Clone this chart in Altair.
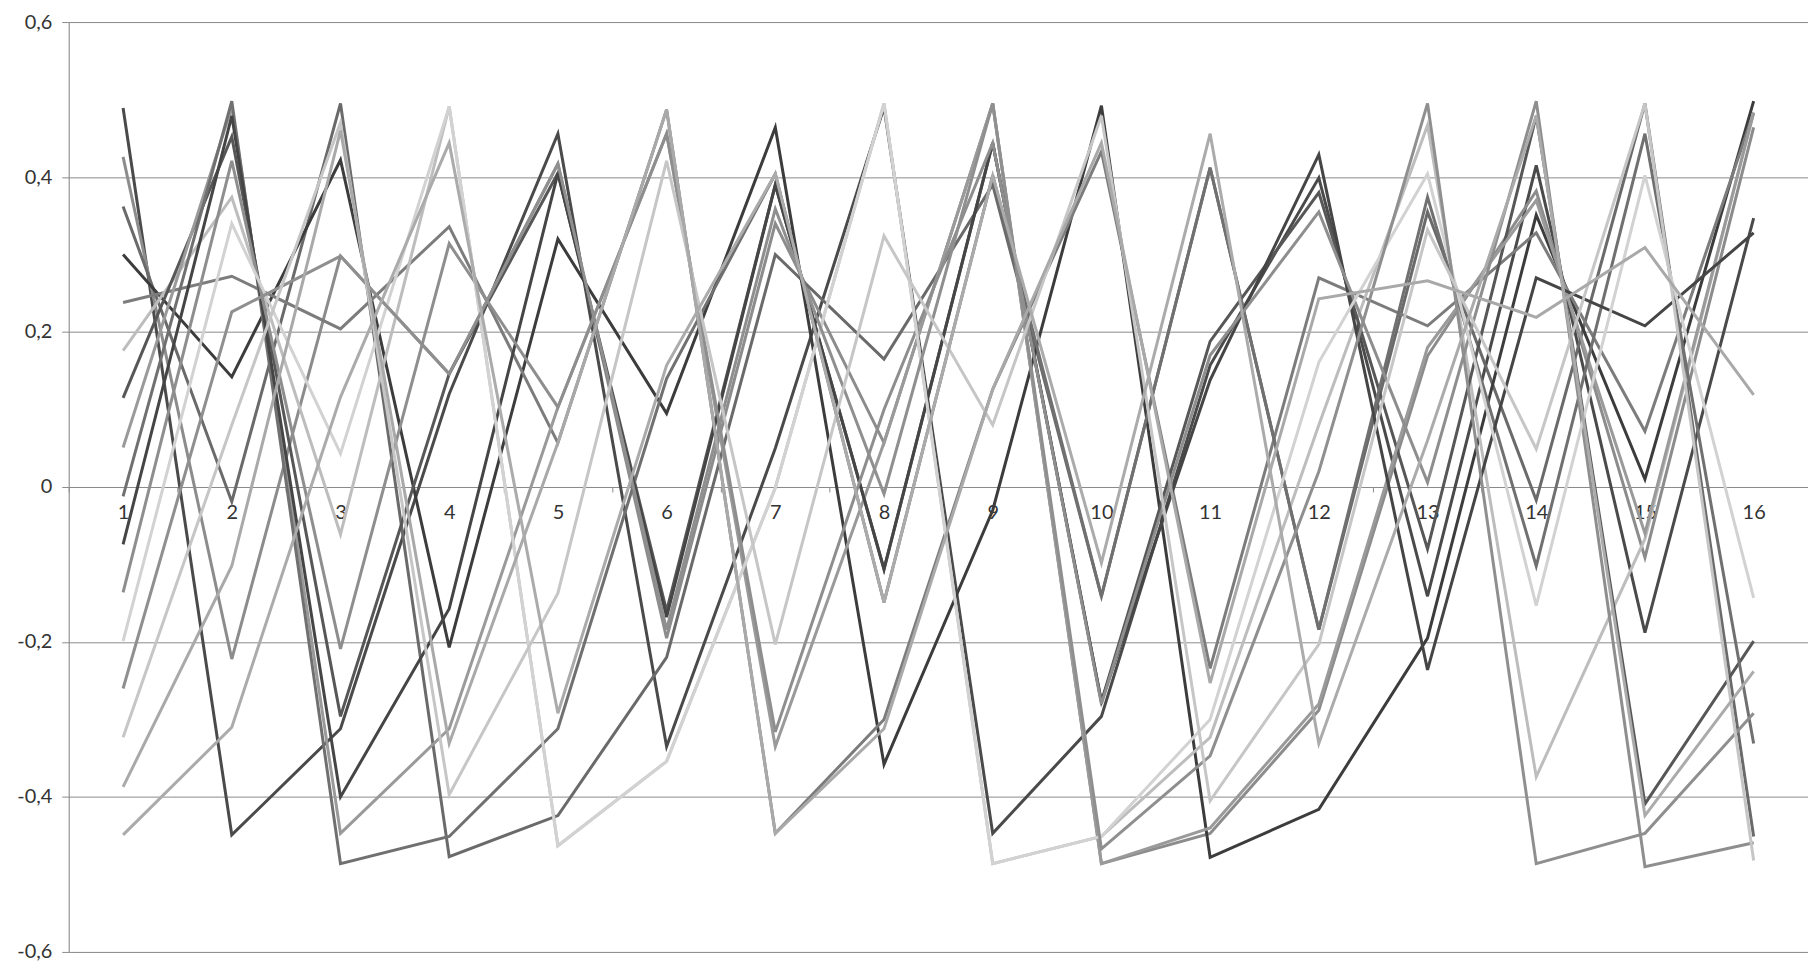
import altair as alt
import pandas as pd

categories = [str(i) for i in range(1, 17)]

series_names = ["A", "B", "C", "D", "E", "F", "G", "H",
                "I", "J", "K", "L", "M", "N", "O", "P"]

series_colors = ["#4a4a4a", "#8c8c8c", "#6a6a6a", "#3c3c3c", "#7c7c7c", "#bdbdbd",
                 "#575757", "#9a9a9a", "#707070", "#454545", "#8e8e8e", "#d2d2d2",
                 "#8f8f8f", "#c6c6c6", "#a9a9a9", "#ababab"]

A = [0.489, -0.449, -0.312, 0.12, 0.456, -0.335, 0.05, 0.49, -0.447, -0.296, 0.157, 0.399, -0.141, 0.415, -0.188, 0.347]
B = [0.426, -0.222, 0.298, 0.146, 0.417, -0.195, 0.34, 0.057, 0.495, -0.486, -0.447, -0.288, 0.169, 0.382, -0.091, 0.464]
C = [0.362, -0.019, 0.495, -0.477, -0.424, -0.22, 0.3, 0.165, 0.39, -0.141, 0.412, -0.184, 0.355, -0.017, 0.495, -0.451]
D = [0.300, 0.142, 0.422, -0.207, 0.32, 0.095, 0.464, -0.358, -0.03, 0.492, -0.478, -0.416, -0.195, 0.351, 0.01, 0.498]
E = [0.238, 0.272, 0.204, 0.336, 0.057, 0.487, -0.447, -0.30, 0.126, 0.433, -0.234, 0.27, 0.208, 0.328, 0.072, 0.483]
F = [0.176, 0.374, -0.061, 0.491, -0.463, -0.354, -0.001, 0.495, -0.486, -0.451, -0.323, 0.08, 0.467, -0.374, -0.067, 0.483]
G = [0.115, 0.452, -0.296, 0.146, 0.405, -0.16, 0.39, -0.106, 0.444, -0.277, 0.188, 0.38, -0.08, 0.479, -0.409, -0.199]
H = [0.051, 0.49, -0.447, -0.312, 0.103, 0.456, -0.335, 0.057, 0.495, -0.486, -0.44, -0.28, 0.18, 0.37, -0.06, 0.483]
I = [-0.012, 0.498, -0.486, -0.451, -0.312, 0.14, 0.404, -0.149, 0.402, -0.141, 0.412, -0.184, 0.374, -0.102, 0.456, -0.331]
J = [-0.074, 0.479, -0.40, -0.157, 0.405, -0.168, 0.39, -0.106, 0.444, -0.277, 0.138, 0.429, -0.236, 0.27, 0.208, 0.328]
K = [-0.136, 0.421, -0.209, 0.314, 0.103, 0.456, -0.316, 0.1, 0.444, -0.28, 0.17, 0.355, 0.006, 0.498, -0.49, -0.459]
L = [-0.199, 0.34, 0.043, 0.491, -0.463, -0.354, -0.001, 0.495, -0.486, -0.451, -0.30, 0.161, 0.404, -0.153, 0.402, -0.143]
M = [-0.26, 0.226, 0.298, 0.146, 0.417, -0.184, 0.359, -0.009, 0.495, -0.467, -0.347, 0.02, 0.495, -0.486, -0.447, -0.292]
N = [-0.323, 0.08, 0.47, -0.397, -0.137, 0.421, -0.203, 0.324, 0.08, 0.479, -0.405, -0.203, 0.332, 0.049, 0.495, -0.482]
O = [-0.387, -0.102, 0.46, -0.331, 0.057, 0.487, -0.447, -0.312, 0.126, 0.444, -0.253, 0.243, 0.266, 0.219, 0.309, 0.119]
P = [-0.449, -0.31, 0.116, 0.444, -0.292, 0.157, 0.404, -0.149, 0.402, -0.098, 0.456, -0.331, 0.06, 0.479, -0.424, -0.238]

series_values = [A, B, C, D, E, F, G, H, I, J, K, L, M, N, O, P]

y_ticks = [-0.6, -0.4, -0.2, 0.0, 0.2, 0.4, 0.6]

rows = []
for name, vals in zip(series_names, series_values):
    for cat, v in zip(categories, vals):
        rows.append({"series": name, "cat": cat, "value": v})
df = pd.DataFrame(rows)

grid_col = "#8a8a8a"
label_col = "#333333"
font = "Lato"

y_label_expr = ("datum.value == 0 ? '0' : (datum.value < 0 ? '-' : '') + "
                "replace(format(abs(datum.value), '.1f'), '.', ',')")

chart = alt.Chart(df).mark_line(strokeWidth=3).encode(
    x=alt.X("cat:N", sort=categories,
            scale=alt.Scale(type="band", paddingInner=0, paddingOuter=0),
            axis=alt.Axis(orient="bottom", offset=-467, grid=False,
                          domainColor=grid_col, tickColor=grid_col, tickSize=5,
                          tickBand="extent", labelAngle=0, labelPadding=11,
                          labelFontSize=20, labelFont=font, labelColor=label_col,
                          title=None)),
    y=alt.Y("value:Q",
            scale=alt.Scale(domain=[-0.6, 0.6], nice=False, zero=False),
            axis=alt.Axis(values=y_ticks, grid=True, gridColor=grid_col,
                          domainColor=grid_col, tickColor=grid_col, tickSize=7,
                          labelPadding=10, labelFontSize=20, labelFont=font,
                          labelColor=label_col, labelExpr=y_label_expr, title=None)),
    color=alt.Color("series:N", scale=alt.Scale(domain=series_names, range=series_colors),
                    legend=None),
    detail="series:N",
).properties(
    width=1747,
    height=934,
    autosize=alt.AutoSizeParams(type="none"),
    padding={"left": 61, "top": 12, "right": 0, "bottom": 10},
).configure_view(stroke=None).configure(background="white")

chart.save("out.html", embed_options={"renderer": "svg", "actions": False})
